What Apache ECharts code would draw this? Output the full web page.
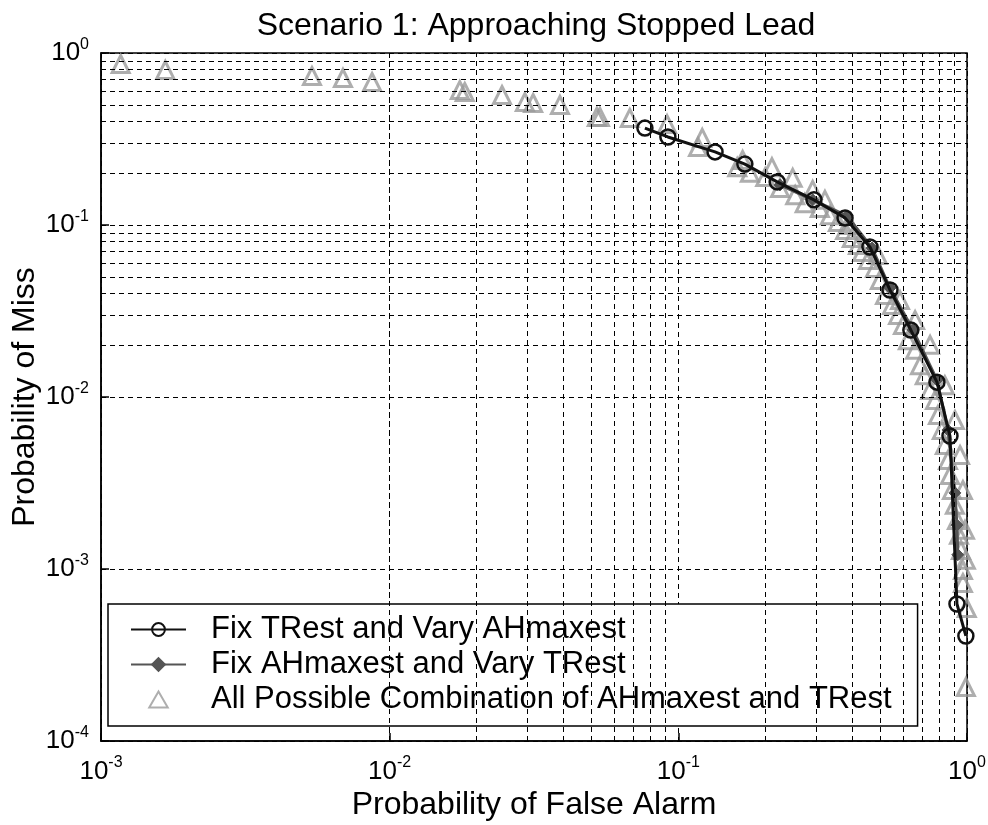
<!DOCTYPE html>
<html>
<head>
<meta charset="utf-8">
<script src="https://cdn.jsdelivr.net/npm/echarts@6/dist/echarts.min.js"></script>
<style>html,body{margin:0;padding:0;background:#fff}#c{width:988px;height:825px}</style>
</head>
<body>
<div id="c"></div>
<script>
// ---- Data ----
const titleText = 'Scenario 1: Approaching Stopped Lead';
const xAxisName = 'Probability of False Alarm';
const yAxisName = 'Probability of Miss';
const seriesNames = [
  'Fix TRest and Vary AHmaxest',
  'Fix AHmaxest and Vary TRest',
  'All Possible Combination of AHmaxest and TRest'
];

// Fix TRest and Vary AHmaxest  [Pfa, Pmiss]
const fixTRest = [
  [0.0766, 0.366], [0.092, 0.325], [0.134, 0.266], [0.170, 0.226],
  [0.220, 0.178], [0.295, 0.140], [0.378, 0.110], [0.461, 0.0745],
  [0.541, 0.0419], [0.639, 0.0245], [0.787, 0.0122], [0.873, 0.00593],
  [0.923, 0.000626], [0.991, 0.000408]
];

// Fix AHmaxest and Vary TRest  [Pfa, Pmiss]
const fixAHmaxest = [
  [0.225, 0.171], [0.292, 0.140], [0.384, 0.113], [0.469, 0.0735],
  [0.541, 0.043], [0.650, 0.0245], [0.787, 0.01256], [0.859, 0.00643],
  [0.908, 0.00277], [0.923, 0.0018], [0.929, 0.00121]
];

// All possible combinations  [Pfa, Pmiss]
const allCombos = [
  [0.00117, 0.863], [0.00167, 0.797], [0.00538, 0.735], [0.00689, 0.716],
  [0.00869, 0.678], [0.0175, 0.609], [0.0182, 0.593], [0.0245, 0.570],
  [0.0294, 0.519], [0.0314, 0.512], [0.0389, 0.499], [0.0522, 0.425],
  [0.0535, 0.425], [0.0679, 0.419], [0.0914, 0.386], [0.121, 0.321],
  [0.167, 0.239], [0.211, 0.217], [0.249, 0.188], [0.292, 0.160],
  [0.117, 0.284], [0.160, 0.217], [0.177, 0.201], [0.200, 0.190],
  [0.225, 0.164], [0.254, 0.149], [0.274, 0.134], [0.309, 0.1255],
  [0.335, 0.114], [0.357, 0.104], [0.378, 0.0935], [0.399, 0.0840],
  [0.419, 0.0765], [0.433, 0.0697], [0.454, 0.0626], [0.480, 0.0562],
  [0.499, 0.0479], [0.520, 0.0392], [0.550, 0.0343], [0.577, 0.0300],
  [0.600, 0.0262], [0.624, 0.0214], [0.661, 0.0188], [0.687, 0.0153],
  [0.714, 0.0134], [0.745, 0.0110], [0.775, 0.00961], [0.793, 0.00786],
  [0.818, 0.00643], [0.838, 0.00526], [0.859, 0.00430], [0.873, 0.00352],
  [0.887, 0.00288], [0.908, 0.00236], [0.923, 0.00193], [0.938, 0.00158],
  [0.953, 0.00129], [0.968, 0.000987], [0.968, 0.000829], [0.998, 0.000593],
  [0.991, 0.000206],
  [0.322, 0.140], [0.393, 0.100], [0.491, 0.0669], [0.586, 0.0366],
  [0.661, 0.0280], [0.745, 0.0201], [0.838, 0.0117], [0.908, 0.00735],
  [0.946, 0.00460], [0.968, 0.00288], [0.984, 0.00169], [0.991, 0.00113]
];

// ---- gridline positions (minor decades 2..9) ----
function minorLines(decades) {
  const out = [];
  decades.forEach(function (d) {
    for (let k = 2; k <= 9; k++) out.push(k * d);
  });
  return out;
}
const xMinor = minorLines([0.001, 0.01, 0.1]);
const yMinor = minorLines([0.0001, 0.001, 0.01, 0.1]);

const gridDash = { color: '#000', width: 1, type: [5, 4] };
const FONT = 'Liberation Sans, Arial, sans-serif';
const TRI_ICON = 'path://M0,-10L8.66,5L-8.66,5Z';

function supLabel(v) {
  const e = Math.round(Math.log10(v));
  return '{b|10}{e|' + e + '}';
}
const richLbl = {
  b: { fontSize: 26, fontFamily: FONT, color: '#000' },
  e: { fontSize: 16, fontFamily: FONT, color: '#000', padding: [0, 0, 17, 0] }
};

const chart = echarts.init(document.getElementById('c'), null, { renderer: 'canvas' });
chart.setOption({
  animation: false,
  backgroundColor: '#fff',
  title: {
    text: titleText, left: 531, top: 5, textAlign: 'center',
    textStyle: { fontFamily: FONT, fontSize: 32, fontWeight: 'normal', color: '#000' }
  },
  grid: {
    left: 101, right: 21, top: 53, bottom: 84,
    outerBoundsMode: 'none', containLabel: false,
    show: true, borderColor: '#000', borderWidth: 1.5, backgroundColor: '#fff'
  },
  legend: {
    orient: 'vertical', left: 108, top: 604,
    backgroundColor: '#fff', borderColor: '#000', borderWidth: 1.5,
    padding: [10, 26, 11, 22], itemGap: 4, itemWidth: 55, itemHeight: 16,
    symbolKeepAspect: true,
    textStyle: { fontFamily: FONT, fontSize: 31, color: '#000', padding: [0, 0, 0, 20] },
    data: [
      seriesNames[0],
      seriesNames[1],
      { name: seriesNames[2], icon: TRI_ICON }
    ]
  },
  xAxis: {
    type: 'log', logBase: 10, min: 0.001, max: 1,
    name: xAxisName, nameLocation: 'middle', nameGap: 46,
    nameTextStyle: { fontFamily: FONT, fontSize: 32, color: '#000' },
    axisLine: { lineStyle: { color: '#000', width: 1.5 } },
    axisTick: { inside: true, length: 8, lineStyle: { color: '#000', width: 1.5 } },
    axisLabel: { formatter: supLabel, rich: richLbl, margin: 14 },
    splitLine: { show: true, lineStyle: gridDash }
  },
  yAxis: {
    type: 'log', logBase: 10, min: 0.0001, max: 1,
    name: yAxisName, nameLocation: 'middle', nameGap: 60, nameMoveOverlap: false,
    nameTextStyle: { fontFamily: FONT, fontSize: 32, color: '#000' },
    axisLine: { lineStyle: { color: '#000', width: 1.5 } },
    axisTick: { inside: true, length: 8, lineStyle: { color: '#000', width: 1.5 } },
    axisLabel: { formatter: supLabel, rich: richLbl, margin: 12 },
    splitLine: { show: true, lineStyle: gridDash }
  },
  series: [
    {
      name: 'minor-grid', type: 'line', data: [], silent: true, z: 1,
      markLine: {
        silent: true, symbol: ['none', 'none'], label: { show: false },
        lineStyle: gridDash, animation: false,
        data: xMinor.map(function (v) { return { xAxis: v }; })
          .concat(yMinor.map(function (v) { return { yAxis: v }; }))
      }
    },
    {
      name: seriesNames[2], type: 'scatter', data: allCombos, z: 3,
      symbol: 'triangle', symbolSize: 17,
      itemStyle: { color: 'rgba(255,255,255,0)', borderColor: '#9a9a9a', borderWidth: 3 }
    },
    {
      name: seriesNames[1], type: 'line', data: fixAHmaxest, z: 4,
      symbol: 'diamond', symbolSize: 12, showAllSymbol: true,
      lineStyle: { color: '#555', width: 3 },
      itemStyle: { color: '#555', borderColor: '#555', borderWidth: 1 }
    },
    {
      name: seriesNames[0], type: 'line', data: fixTRest, z: 5,
      symbol: 'circle', symbolSize: 15, showAllSymbol: true,
      lineStyle: { color: '#111', width: 3 },
      itemStyle: { color: 'rgba(255,255,255,0)', borderColor: '#111', borderWidth: 2.5 }
    }
  ]
});
</script>
</body>
</html>
